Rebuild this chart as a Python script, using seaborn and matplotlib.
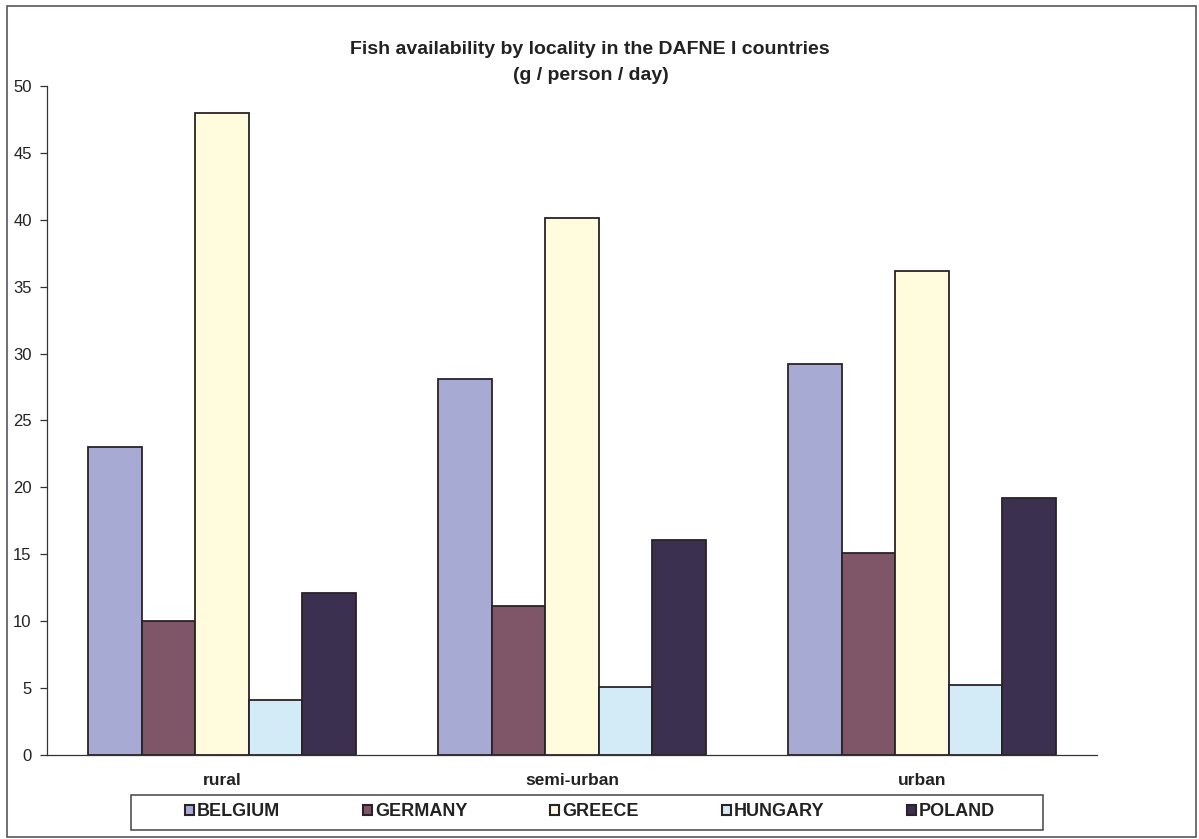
import matplotlib
matplotlib.use("Agg")
import matplotlib.pyplot as plt
import seaborn as sns
import pandas as pd
from matplotlib.patches import Rectangle, Patch

localities = ["rural", "semi-urban", "urban"]
countries = ["BELGIUM", "GERMANY", "GREECE", "HUNGARY", "POLAND"]
belgium = [23.0, 28.1, 29.2]
germany = [10.0, 11.1, 15.1]
greece = [48.0, 40.1, 36.2]
hungary = [4.1, 5.1, 5.2]
poland = [12.1, 16.1, 19.2]
colors = ["#a7aad3", "#7e5667", "#fffbdc", "#d3ebf6", "#3b3050"]
yticks = [0, 5, 10, 15, 20, 25, 30, 35, 40, 45, 50]

series = [belgium, germany, greece, hungary, poland]
rows = []
for c, vals in zip(countries, series):
    for loc, v in zip(localities, vals):
        rows.append({"locality": loc, "country": c, "value": v})
df = pd.DataFrame(rows)

sns.set_theme(style="white")
plt.rcParams["font.family"] = ["Liberation Sans", "DejaVu Sans"]

W, H = 1199, 839
fig = plt.figure(figsize=(W / 100, H / 100), dpi=100)
ax = fig.add_axes([47 / W, 1 - 755 / H, 1050 / W, 669 / H])

sns.barplot(data=df, x="locality", y="value", hue="country", order=localities,
            hue_order=countries, palette=colors, width=0.764, ax=ax,
            edgecolor="#2a2226", linewidth=1.3, legend=False, saturation=1)

ax.set_xlim(-0.5, 2.5)
ax.set_ylim(0, 50)
ax.set_yticks(yticks)
ax.set_yticklabels([str(t) for t in yticks], fontsize=12, color="#222222")
ax.set_xlabel("")
ax.set_ylabel("")
ax.set_xticks(range(len(localities)))
ax.set_xticklabels(localities, fontsize=12.5, fontweight="bold", color="#222222")
ax.tick_params(axis="x", which="major", length=0, pad=13)
ax.set_xticks([0.5, 1.5, 2.5], minor=True)
ax.tick_params(axis="x", which="minor", length=6, direction="out", width=0.9, color="#333333")
ax.tick_params(axis="y", length=5, direction="out", width=0.9, color="#333333", pad=6, left=True)
for s in ["top", "right"]:
    ax.spines[s].set_visible(False)
for s in ["left", "bottom"]:
    ax.spines[s].set_color("#333333")
    ax.spines[s].set_linewidth(0.9)

fig.text(590 / W, 1 - 49 / H, "Fish availability by locality in the DAFNE I countries",
         ha="center", va="center", fontsize=14, fontweight="bold", color="#222222")
fig.text(591 / W, 1 - 76 / H, "(g / person / day)",
         ha="center", va="center", fontsize=14, fontweight="bold", color="#222222")

handles = [Patch(facecolor=col, edgecolor="#2a2226", linewidth=1.5) for col in colors]
leg = fig.legend(handles, countries, loc="center",
                 bbox_to_anchor=(590 / W, 1 - 812 / H),
                 ncol=5, frameon=False,
                 handlelength=0.5, handleheight=0.5, handletextpad=0.15,
                 columnspacing=4.6, borderaxespad=0, borderpad=0,
                 prop={"weight": "bold", "size": 13})
for t in leg.get_texts():
    t.set_color("#222222")

fig.patches.append(Rectangle((131 / W, 1 - 830 / H), 912 / W, 35 / H,
                             transform=fig.transFigure, fill=False,
                             edgecolor="#444444", linewidth=1.1))
fig.patches.append(Rectangle((7 / W, 2 / H), 1189 / W, 831 / H,
                             transform=fig.transFigure, fill=False,
                             edgecolor="#555566", linewidth=1.2))

fig.savefig("out.png", dpi=100)
